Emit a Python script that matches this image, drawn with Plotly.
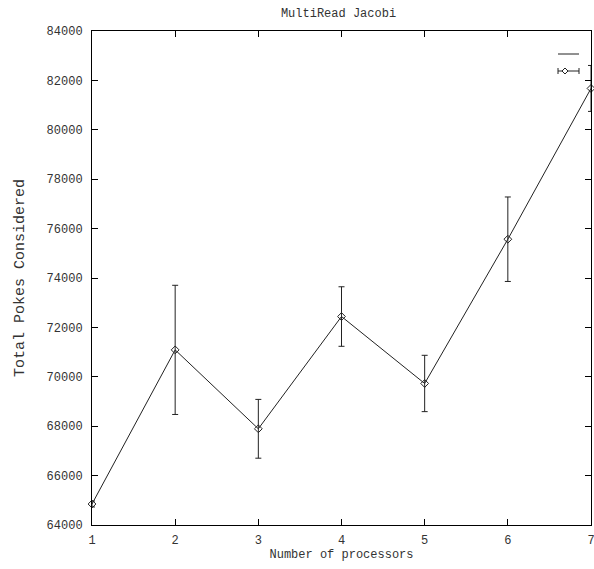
import plotly.graph_objects as go

# Total pokes considered vs. number of processors (MultiRead Jacobi)
processors = [1, 2, 3, 4, 5, 6, 7]
total_pokes = [64850, 71090, 67895, 72440, 69730, 75570, 81675]
pokes_err = [120, 2615, 1190, 1205, 1140, 1710, 930]

x_ticks = [1, 2, 3, 4, 5, 6, 7]
y_ticks = list(range(64000, 84001, 2000))

W, H = 594, 569
ML, MR, MT, MB = 92, 3, 31, 44
FONT = "Liberation Mono, Courier New, monospace"
INK = "#222222"
TXT = "#333333"

fig = go.Figure()

# connecting line
fig.add_trace(go.Scatter(
    x=processors, y=total_pokes, mode="lines",
    line=dict(color=INK, width=1), showlegend=False, hoverinfo="skip",
))

# points with error bars
fig.add_trace(go.Scatter(
    x=processors, y=total_pokes, mode="markers",
    marker=dict(symbol="diamond-open", size=6, color=INK, line=dict(width=1, color=INK)),
    error_y=dict(type="data", array=pokes_err, visible=True,
                 color=INK, thickness=1, width=3),
    showlegend=False, cliponaxis=False,
))

# key samples in the upper-right corner (paper coordinates)
pw, ph = W - ML - MR, H - MT - MB
def px(xp):
    return (xp - ML) / pw
def py(yp):
    return 1 - (yp - MT) / ph

shapes = []
# line key
shapes.append(dict(type="line", xref="paper", yref="paper",
                   x0=px(558), x1=px(579), y0=py(54), y1=py(54),
                   line=dict(color=INK, width=1)))
# error-bar key: bar, caps and diamond
shapes.append(dict(type="line", xref="paper", yref="paper",
                   x0=px(558), x1=px(579), y0=py(71), y1=py(71),
                   line=dict(color=INK, width=1)))
for cx in (558, 579):
    shapes.append(dict(type="line", xref="paper", yref="paper",
                       x0=px(cx), x1=px(cx), y0=py(68), y1=py(74),
                       line=dict(color=INK, width=1)))
dx, dy = 3 / pw, 3 / ph
cxp, cyp = px(565), py(71)
shapes.append(dict(type="path", xref="paper", yref="paper",
                   path=f"M {cxp - dx} {cyp} L {cxp} {cyp + dy} L {cxp + dx} {cyp} L {cxp} {cyp - dy} Z",
                   fillcolor="white", line=dict(color=INK, width=1)))

axis_common = dict(
    showgrid=False, zeroline=False, showline=True, linecolor="black", linewidth=1,
    mirror="allticks", ticks="inside", ticklen=6, tickcolor="black", tickwidth=1,
    tickfont=dict(family=FONT, size=12, color=TXT),
    ticklabeloverflow="allow", automargin=False,
)

fig.update_layout(
    width=W, height=H,
    margin=dict(l=ML, r=MR, t=MT, b=MB, pad=0, autoexpand=False),
    paper_bgcolor="white", plot_bgcolor="white",
    title=dict(text="MultiRead Jacobi", x=(ML + pw / 2) / W - 0.005, xanchor="center",
               y=1 - 13 / H, yanchor="middle",
               font=dict(family=FONT, size=12, color=TXT)),
    xaxis=dict(range=[1, 7], tickvals=x_ticks, ticktext=[str(v) for v in x_ticks],
               title=dict(text="Number of processors", standoff=2,
                          font=dict(family=FONT, size=12, color=TXT)),
               ticklabelstandoff=4, **axis_common),
    yaxis=dict(range=[64000, 84000], tickvals=y_ticks, ticktext=[str(v) for v in y_ticks],
               title=dict(text="Total Pokes Considered", standoff=18,
                          font=dict(family=FONT, size=15, color=TXT)),
               ticklabelstandoff=6, **axis_common),
    shapes=shapes,
    showlegend=False,
)

fig.write_html("out.html")
